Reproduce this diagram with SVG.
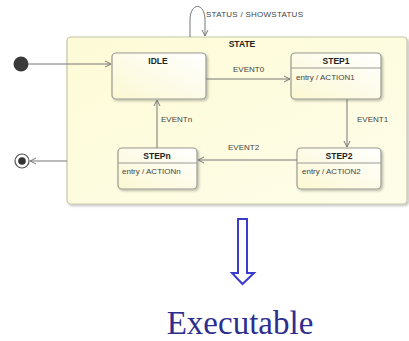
<svg xmlns="http://www.w3.org/2000/svg" width="409" height="341" viewBox="0 0 409 341">
<defs>
<linearGradient id="gState" x1="0" y1="0" x2="1" y2="1">
<stop offset="0" stop-color="#fdfbd6"/>
<stop offset="1" stop-color="#fefde9"/>
</linearGradient>
<linearGradient id="gNode" x1="1" y1="0" x2="0" y2="1">
<stop offset="0" stop-color="#ffffff"/>
<stop offset="1" stop-color="#fbf8d2"/>
</linearGradient>
<marker id="arr" markerWidth="8" markerHeight="8" refX="7" refY="4" orient="auto" markerUnits="userSpaceOnUse">
<path d="M1,1 L7,4 L1,7" fill="none" stroke="#777" stroke-width="1"/>
</marker>
<filter id="sh" x="-10%" y="-10%" width="130%" height="130%">
<feDropShadow dx="1.5" dy="1.5" stdDeviation="1" flood-color="#000" flood-opacity="0.25"/>
</filter>
</defs>
<style>
.box{fill:url(#gNode);stroke:#9a9a92;stroke-width:1.2;filter:url(#sh)}
.t{font-family:"Liberation Sans",Arial,sans-serif;font-size:8px;fill:#444}
.b{font-family:"Liberation Sans",Arial,sans-serif;font-size:8.5px;font-weight:bold;fill:#222}
.ln{stroke:#777;stroke-width:1;fill:none}
</style>
<rect width="409" height="341" fill="#ffffff"/>
<g id="STATE">
<rect x="67" y="37" width="340" height="167" rx="4" fill="url(#gState)" stroke="#c8c7a8" stroke-width="1.2" filter="url(#sh)"/>
<text class="b" x="242" y="47" text-anchor="middle">STATE</text>
</g>
<g id="initial">
<circle cx="21" cy="64" r="7.5" fill="#3a3a3a"/>
</g>
<g id="final">
<circle cx="22" cy="161" r="7" fill="#fff" stroke="#555" stroke-width="1.2"/>
<circle cx="22" cy="161" r="3.8" fill="#333"/>
</g>
<g id="IDLE">
<rect class="box" x="112" y="53" width="94" height="46" rx="4"/>
<text class="b" x="158" y="64" text-anchor="middle">IDLE</text>
</g>
<g id="STEP1">
<rect class="box" x="291" y="53" width="90" height="46" rx="4"/>
<text class="b" x="336" y="64" text-anchor="middle">STEP1</text>
<line x1="291" y1="68" x2="381" y2="68" stroke="#9a9a92"/>
<text class="t" x="296" y="80">entry / ACTION1</text>
</g>
<g id="STEP2">
<rect class="box" x="297" y="148" width="84" height="41" rx="4"/>
<text class="b" x="339" y="159" text-anchor="middle">STEP2</text>
<line x1="297" y1="163" x2="381" y2="163" stroke="#9a9a92"/>
<text class="t" x="302" y="174">entry / ACTION2</text>
</g>
<g id="STEPn">
<rect class="box" x="118" y="148" width="79" height="41" rx="4"/>
<text class="b" x="157" y="159" text-anchor="middle">STEPn</text>
<line x1="118" y1="163" x2="197" y2="163" stroke="#9a9a92"/>
<text class="t" x="122" y="174">entry / ACTIONn</text>
</g>
<g id="connectors">
<line class="ln" x1="28" y1="64" x2="111" y2="64" marker-end="url(#arr)"/>
<line class="ln" x1="67" y1="161" x2="30" y2="161" marker-end="url(#arr)"/>
<path class="ln" d="M190,37 L190,20 C190,2 205,2 205,20 L205,36" marker-end="url(#arr)"/>
<text class="t" x="206" y="17" font-size="7.5" textLength="97">STATUS / SHOWSTATUS</text>
<line class="ln" x1="206" y1="79" x2="290" y2="79" marker-end="url(#arr)"/>
<text class="t" x="233" y="72">EVENT0</text>
<line class="ln" x1="347" y1="99" x2="347" y2="147" marker-end="url(#arr)"/>
<text class="t" x="357" y="122">EVENT1</text>
<line class="ln" x1="297" y1="160" x2="198" y2="160" marker-end="url(#arr)"/>
<text class="t" x="228" y="150">EVENT2</text>
<line class="ln" x1="157" y1="148" x2="157" y2="100" marker-end="url(#arr)"/>
<text class="t" x="161" y="122">EVENTn</text>
</g>
<g id="arrow">
<polygon points="238,219 247,219 247,273 254,273 242.5,284 232,273 238,273" fill="#fff" stroke="#3a3acc" stroke-width="2" stroke-linejoin="miter"/>
</g>
<text x="240" y="334" text-anchor="middle" font-family="Liberation Serif,Times New Roman,serif" font-size="33" fill="#2e2e8e">Executable</text>
</svg>
